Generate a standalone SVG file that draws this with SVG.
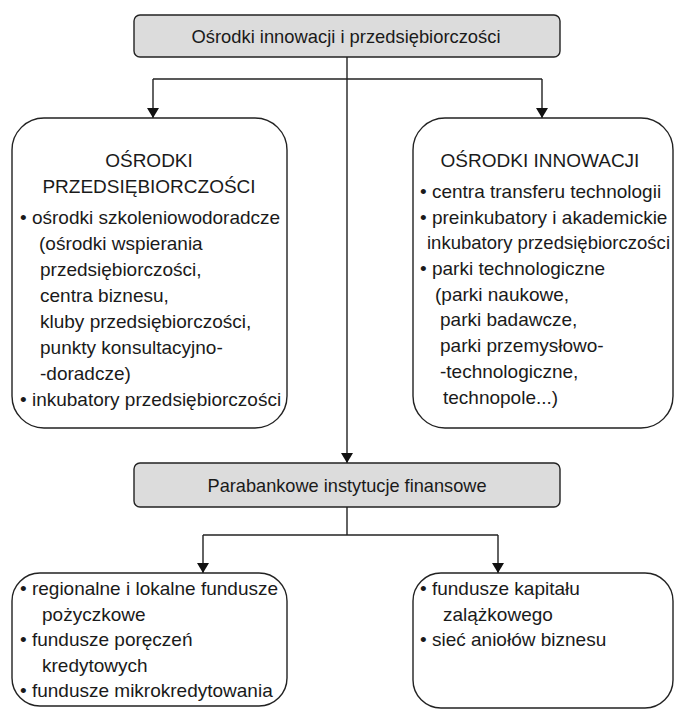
<svg xmlns="http://www.w3.org/2000/svg" width="675" height="714" viewBox="0 0 675 714">
  <style>
    text { font-family: "Liberation Sans", Arial, sans-serif; font-size: 19px; fill: #1a1a1a; }
    .hdr { fill: #dcdcdc; stroke: #222; stroke-width: 1.4; }
    .box { fill: #fff; stroke: #222; stroke-width: 1.4; }
    .link { fill: none; stroke: #222; stroke-width: 1.4; }
    .mid { text-anchor: middle; }
  </style>
  <defs>
    <marker id="arrow" viewBox="0 0 10 12" refX="10" refY="6" markerWidth="10" markerHeight="12" markerUnits="userSpaceOnUse" orient="auto">
      <path d="M0,0 L10,6 L0,12 Z" fill="#111"/>
    </marker>
  </defs>

  <!-- connectors -->
  <g id="connectors">
    <path class="link" d="M347,57 V463" marker-end="url(#arrow)"/>
    <path class="link" d="M153,79 H542"/>
    <path class="link" d="M153,79 V118" marker-end="url(#arrow)"/>
    <path class="link" d="M542,79 V118" marker-end="url(#arrow)"/>
    <path class="link" d="M347,507 V535"/>
    <path class="link" d="M203,535 H498"/>
    <path class="link" d="M203,535 V573" marker-end="url(#arrow)"/>
    <path class="link" d="M498,535 V573" marker-end="url(#arrow)"/>
  </g>

  <!-- top header -->
  <g id="top">
    <rect class="hdr" x="134" y="15" width="426" height="42" rx="6"/>
    <text class="mid" x="346" y="43" textLength="309" lengthAdjust="spacingAndGlyphs">Ośrodki innowacji i przedsiębiorczości</text>
  </g>

  <!-- entrepreneurship centres -->
  <g id="przedsiebiorczosc">
    <rect class="box" x="12" y="118" width="275" height="310" rx="32"/>
    <text class="mid" x="149" y="167">OŚRODKI</text>
    <text class="mid" x="149" y="193">PRZEDSIĘBIORCZOŚCI</text>
    <text x="20" y="224">• ośrodki szkoleniowodoradcze</text>
    <text x="39" y="250">(ośrodki wspierania</text>
    <text x="40" y="276">przedsiębiorczości,</text>
    <text x="40" y="302">centra biznesu,</text>
    <text x="40" y="328">kluby przedsiębiorczości,</text>
    <text x="40" y="354">punkty konsultacyjno-</text>
    <text x="40" y="380">-doradcze)</text>
    <text x="20" y="406">• inkubatory przedsiębiorczości</text>
  </g>

  <!-- innovation centres -->
  <g id="innowacje">
    <rect class="box" x="413" y="118" width="260" height="310" rx="32"/>
    <text class="mid" x="540" y="167">OŚRODKI INNOWACJI</text>
    <text x="420" y="198">• centra transferu technologii</text>
    <text x="420" y="224">• preinkubatory i akademickie</text>
    <text x="427" y="249" textLength="243" lengthAdjust="spacingAndGlyphs">inkubatory przedsiębiorczości</text>
    <text x="420" y="275">• parki technologiczne</text>
    <text x="435" y="301">(parki naukowe,</text>
    <text x="440" y="326">parki badawcze,</text>
    <text x="440" y="352">parki przemysłowo-</text>
    <text x="440" y="378">-technologiczne,</text>
    <text x="443" y="404">technopole...)</text>
  </g>

  <!-- para-banking institutions -->
  <g id="parabankowe">
    <rect class="hdr" x="134" y="463" width="426" height="44" rx="6"/>
    <text class="mid" x="347" y="492" textLength="279" lengthAdjust="spacingAndGlyphs">Parabankowe instytucje finansowe</text>
  </g>

  <!-- loan and guarantee funds -->
  <g id="fundusze-lewe">
    <rect class="box" x="12" y="573" width="275" height="133" rx="28"/>
    <text x="20" y="595">• regionalne i lokalne fundusze</text>
    <text x="42" y="620.5">pożyczkowe</text>
    <text x="20" y="646">• fundusze poręczeń</text>
    <text x="42" y="671.5">kredytowych</text>
    <text x="20" y="697">• fundusze mikrokredytowania</text>
  </g>

  <!-- seed capital and business angels -->
  <g id="fundusze-prawe">
    <rect class="box" x="413" y="573" width="260" height="135" rx="28"/>
    <text x="420" y="595">• fundusze kapitału</text>
    <text x="443" y="620.5">zalążkowego</text>
    <text x="420" y="646">• sieć aniołów biznesu</text>
  </g>
</svg>
